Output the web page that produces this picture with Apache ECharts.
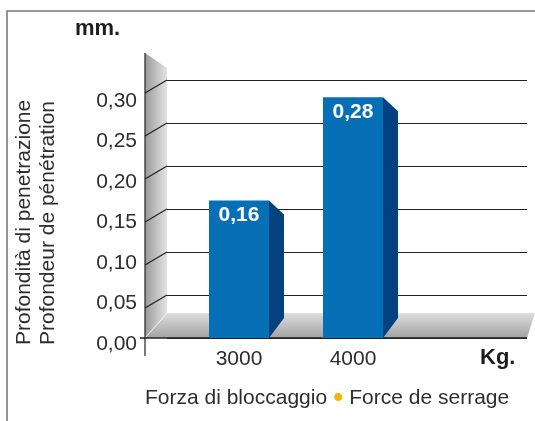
<!DOCTYPE html>
<html><head><meta charset="utf-8">
<script src="https://cdn.jsdelivr.net/npm/echarts@6/dist/echarts.min.js"></script>
<style>html,body{margin:0;padding:0;background:#fff}#c{width:535px;height:421px}</style>
</head><body><div id="c"></div>
<script>
const categories = ['3000', '4000'];
const values = [0.16, 0.28];
const yTicks = [0, 0.05, 0.10, 0.15, 0.20, 0.25, 0.30];
const yUnit = 'mm.';
const xUnit = 'Kg.';
const yNameLines = ['Profondità di penetrazione', 'Profondeur de pénétration'];
const xNameParts = ['Forza di bloccaggio', 'Force de serrage'];

const FONT = '"Liberation Sans", Arial, Helvetica, sans-serif';
const TXT = '#2e2e2e';
const fmt = v => Number(v).toFixed(2).replace('.', ',');
const yMax = yTicks[yTicks.length - 1];
const yStep = yTicks[1] - yTicks[0];

function renderDecor(params, api) {
  const o = api.coord([0, 0]);
  const r = api.coord([1, 0]);
  const t = api.coord([0, yMax]);
  const dx = 22, floorD = 25, stubD = 13;
  const fx = o[0] - dx;
  const ch = [];
  ch.push({type:'polygon', shape:{points:[[fx, t[1]-27],[o[0], t[1]-12],[o[0], o[1]-floorD],[fx, o[1]]]},
    style:{fill:new echarts.graphic.LinearGradient(0,0,1,0,[{offset:0,color:'#9a9a9a'},{offset:1,color:'#e4e4e4'}])}});
  yTicks.slice(1).forEach(v => {
    const p = api.coord([0, v]);
    ch.push({type:'line', shape:{x1:fx, y1:p[1]+stubD, x2:o[0], y2:p[1]}, style:{stroke:'#222', lineWidth:1.2}});
  });
  ch.push({type:'polygon', shape:{points:[[o[0], o[1]-floorD],[r[0]+8, o[1]-floorD],[r[0], o[1]],[fx, o[1]]]},
    style:{fill:new echarts.graphic.LinearGradient(0,0,0,1,[{offset:0,color:'#dedede'},{offset:1,color:'#a2a2a2'}])}});
  ch.push({type:'line', shape:{x1:fx, y1:o[1], x2:o[0], y2:o[1]-floorD}, style:{stroke:'#f2f2f2', lineWidth:1}});
  ch.push({type:'line', shape:{x1:fx-5, y1:o[1], x2:r[0], y2:o[1]}, style:{stroke:'#222', lineWidth:1.5}});
  ch.push({type:'line', shape:{x1:fx, y1:t[1]-27, x2:fx, y2:o[1]+18}, style:{stroke:'#222', lineWidth:1.2}});
  return {type:'group', children:ch};
}

function renderBar(params, api) {
  const idx = api.value(0), val = api.value(1);
  const top = api.coord([idx, val]);
  const base = api.coord([idx, 0]);
  const w = 60, d = 15, s = 14;
  const x0 = top[0] - w / 2, x1 = x0 + w;
  return {type:'group', children:[
    {type:'polygon', shape:{points:[[x1, top[1]],[x1+d, top[1]+s],[x1+d, base[1]-20],[x1, base[1]]]}, style:{fill:'#03427f'}},
    {type:'rect', shape:{x:x0, y:top[1], width:w, height:base[1]-top[1]}, style:{fill:'#066fb6'}},
    {type:'text', x:top[0], y:top[1]+15, style:{text:fmt(val), fill:'#fff', fontSize:21, fontWeight:'bold', fontFamily:FONT, align:'center', verticalAlign:'middle'}}
  ]};
}

const chart = echarts.init(document.getElementById('c'));
chart.setOption({
  animation:false,
  backgroundColor:'#fff',
  grid:[
    {left:167, right:8, top:80, bottom:83},
    {left:182, right:125, top:80, bottom:83},
    {left:145, right:8, top:101, bottom:77}
  ],
  xAxis:[
    {gridIndex:0, type:'value', min:0, max:1, show:false},
    {gridIndex:1, type:'category', data:categories,
      axisLine:{show:false}, axisTick:{show:false},
      axisLabel:{fontSize:21, color:TXT, fontFamily:FONT, margin:11}},
    {gridIndex:2, type:'value', min:0, max:1, show:false}
  ],
  yAxis:[
    {gridIndex:0, type:'value', min:0, max:yMax, interval:yStep,
      axisLine:{show:false}, axisTick:{show:false}, axisLabel:{show:false},
      splitLine:{show:true, lineStyle:{color:'#222', width:1.2}}},
    {gridIndex:1, type:'value', min:0, max:yMax, interval:yStep, show:false, splitLine:{show:false}},
    {gridIndex:2, type:'value', min:0, max:yMax, interval:yStep,
      axisLine:{show:false}, axisTick:{show:false}, splitLine:{show:false},
      axisLabel:{formatter:fmt, fontSize:21, color:TXT, fontFamily:FONT, margin:8}}
  ],
  series:[
    {type:'custom', xAxisIndex:0, yAxisIndex:0, data:[[0,0]], renderItem:renderDecor, z:1, silent:true},
    {type:'custom', xAxisIndex:1, yAxisIndex:1, data:categories.map((c,i)=>[i, values[i]]), renderItem:renderBar, z:3}
  ],
  graphic:[
    {type:'polyline', shape:{points:[[7,421],[7,11],[535,11]]}, style:{stroke:'#7c7c7c', lineWidth:1.6, fill:null}},
    {type:'text', x:75, y:29, style:{text:yUnit, fontSize:22, fontWeight:'bold', fontFamily:FONT, fill:'#1e1e1e', verticalAlign:'middle'}},
    {type:'text', x:480, y:358, style:{text:xUnit, fontSize:22, fontWeight:'bold', fontFamily:FONT, fill:'#1e1e1e', verticalAlign:'middle'}},
    {type:'text', x:36.5, y:345, rotation:Math.PI/2,
      style:{text:yNameLines.join('\n'), fontSize:21, lineHeight:24, fontFamily:FONT, fill:TXT, align:'left', verticalAlign:'middle'}},
    {type:'text', x:145, y:398.5,
      style:{text:'{a|' + xNameParts[0] + '} {b|•} {a|' + xNameParts[1] + '}', fontSize:21, fontFamily:FONT, fill:TXT, verticalAlign:'middle',
        rich:{a:{fontSize:21, fontFamily:FONT, fill:TXT, lineHeight:24}, b:{fontSize:30, fontFamily:FONT, fill:'#f2b705', lineHeight:24, verticalAlign:'middle'}}}}
  ]
});
</script></body></html>
